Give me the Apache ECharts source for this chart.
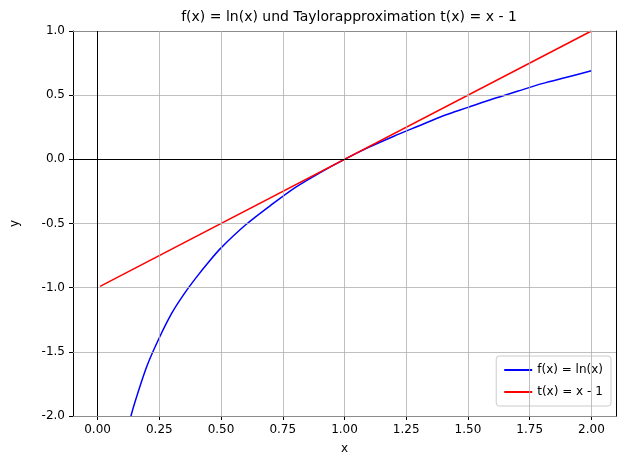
<!DOCTYPE html><html><head><meta charset="utf-8"><script src="https://cdn.jsdelivr.net/npm/echarts@6/dist/echarts.min.js"></script></head><body style="margin:0"><div id="c" style="width:625px;height:469px"></div><script>
const xTicks=[0,0.25,0.5,0.75,1,1.25,1.5,1.75,2];
const yTicks=[-2,-1.5,-1,-0.5,0,0.5,1];
const lnX=[0.01,0.05,0.1,0.13,0.15,0.2,0.25,0.3,0.35,0.4,0.45,0.5,0.6,0.7,0.8,0.9,1,1.1,1.2,1.3,1.4,1.5,1.6,1.7,1.8,1.9,2];
const lnY=[-4.61,-3.0,-2.30,-2.04,-1.90,-1.61,-1.39,-1.20,-1.05,-0.92,-0.80,-0.69,-0.51,-0.36,-0.22,-0.105,0,0.095,0.18,0.26,0.34,0.405,0.47,0.53,0.59,0.64,0.69];
const tX=[0.01,2];
const tY=[-0.99,1];
const f='DejaVu Sans';
const gl=[...xTicks.map(v=>({xAxis:v})),...yTicks.map(v=>({yAxis:v}))];
const c=echarts.init(document.getElementById('c'));
const lab={fontFamily:f,fontSize:12,color:'#000'};
c.setOption({animation:false,
title:{text:'f(x) = ln(x) und Taylorapproximation t(x) = x - 1',left:344,top:5,textAlign:'center',textStyle:{fontFamily:f,fontSize:14,fontWeight:'normal',color:'#000'}},
grid:{left:73,right:9,top:31,bottom:53},
xAxis:[{type:'value',min:-0.0995,max:2.0995,name:'x',nameLocation:'middle',nameGap:27,nameTextStyle:lab,
axisLine:{onZero:false,lineStyle:{color:'#000'}},axisTick:{customValues:xTicks,length:4,lineStyle:{color:'#000'}},
axisLabel:{customValues:xTicks,formatter:v=>v.toFixed(2),...lab},splitLine:{show:false}},
{type:'value',position:'top',min:-0.0995,max:2.0995,axisLine:{show:true,onZero:false,lineStyle:{color:'#000'}},axisTick:{show:false},axisLabel:{show:false},splitLine:{show:false}}],
yAxis:[{type:'value',min:-2,max:1,interval:0.5,name:'y',nameLocation:'middle',nameGap:52,nameTextStyle:lab,
axisLine:{show:true,onZero:false,lineStyle:{color:'#000'}},axisTick:{show:true,length:4,lineStyle:{color:'#000'}},
axisLabel:{formatter:v=>v.toFixed(1),...lab},splitLine:{show:false}},
{type:'value',position:'right',min:-2,max:1,axisLine:{show:true,onZero:false,lineStyle:{color:'#000'}},axisTick:{show:false},axisLabel:{show:false},splitLine:{show:false}}],
legend:{right:14,bottom:63,orient:'vertical',itemWidth:28,itemHeight:2,itemGap:10,borderColor:'#ccc',borderWidth:1,borderRadius:3,padding:[8,8],backgroundColor:'#fff',
textStyle:lab,data:[{name:'f(x) = ln(x)',icon:'rect'},{name:'t(x) = x - 1',icon:'rect'}]},
series:[
{type:'line',data:[],markLine:{silent:true,symbol:'none',label:{show:false},lineStyle:{color:'#b0b0b0',width:0.8,type:'solid'},data:gl}},
{type:'line',data:[],markLine:{silent:true,symbol:'none',label:{show:false},lineStyle:{color:'#000',width:1,type:'solid'},data:[{xAxis:0},{yAxis:0}]}},
{name:'f(x) = ln(x)',type:'line',showSymbol:false,smooth:0.3,clip:true,color:'#0000ff',lineStyle:{width:1.5},data:lnX.map((x,i)=>[x,lnY[i]])},
{name:'t(x) = x - 1',type:'line',showSymbol:false,clip:true,color:'#ff0000',lineStyle:{width:1.5},data:tX.map((x,i)=>[x,tY[i]])}
]});
</script></body></html>
